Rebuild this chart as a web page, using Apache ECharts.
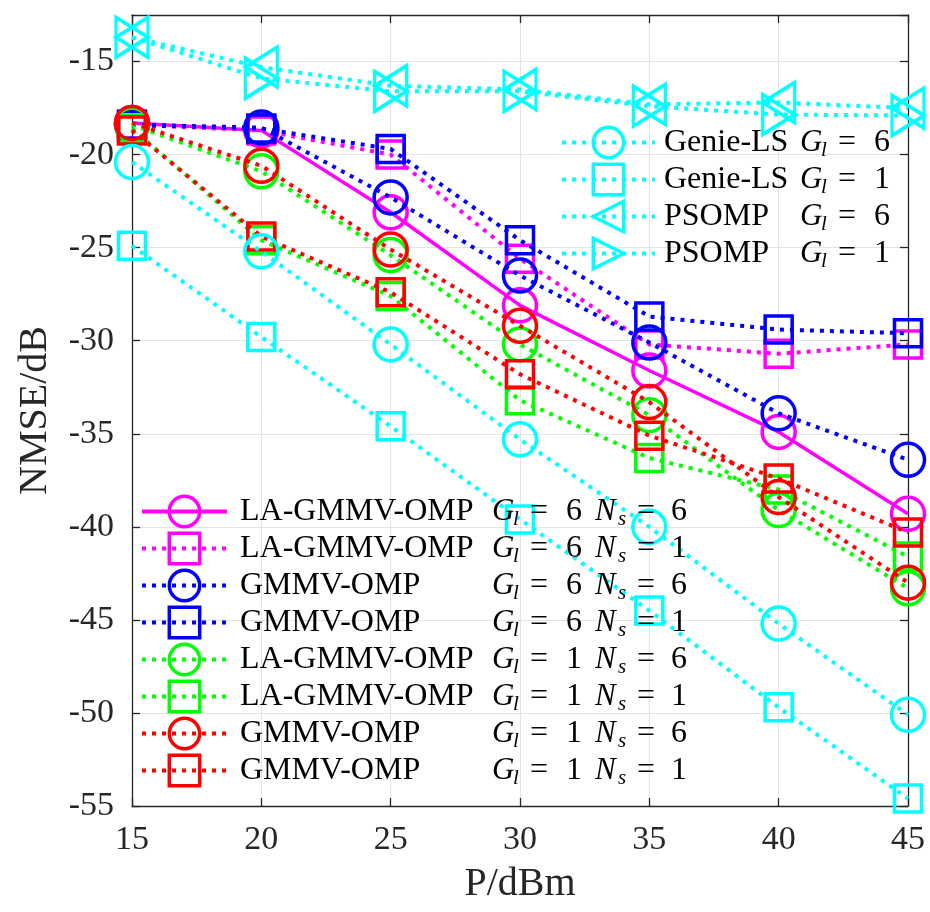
<!DOCTYPE html>
<html>
<head>
<meta charset="utf-8">
<title>NMSE vs P</title>
<script src="https://cdn.jsdelivr.net/npm/echarts@6/dist/echarts.min.js"></script>
<style>
  html, body { margin: 0; padding: 0; background: #fff; }
  #chart { width: 930px; height: 912px; }
</style>
</head>
<body>
<div id="chart"></div>
<script>
// Transmit power axis (dBm)
const powerDbm = [15, 20, 25, 30, 35, 40, 45];

// NMSE (dB) per method
const laGmmvG6N6 = [-18.3, -18.7, -23.1, -28.1, -31.6, -34.9, -39.3];
const laGmmvG6N1 = [-18.4, -18.7, -20.0, -25.6, -30.2, -30.7, -30.2];
const gmmvG6N6   = [-18.4, -18.55, -22.3, -26.5, -30.1, -33.9, -36.4];
const gmmvG6N1   = [-18.4, -18.6, -19.7, -24.6, -28.7, -29.4, -29.6];
const laGmmvG1N6 = [-18.4, -20.9, -25.4, -30.2, -34.0, -39.1, -43.3];
const laGmmvG1N1 = [-18.6, -24.6, -27.6, -33.2, -36.3, -38.0, -41.6];
const gmmvG1N6   = [-18.3, -20.6, -25.1, -29.2, -33.3, -38.4, -43.0];
const gmmvG1N1   = [-18.7, -24.4, -27.4, -31.8, -35.1, -37.4, -40.3];
const genieLsG6  = [-20.4, -25.2, -30.2, -35.3, -40.0, -45.2, -50.1];
const genieLsG1  = [-24.9, -29.8, -34.6, -39.6, -44.5, -49.7, -54.6];
const psompG6    = [-13.7, -15.3, -16.3, -16.5, -17.3, -17.2, -17.5];
const psompG1    = [-13.7, -15.9, -16.6, -16.6, -17.4, -17.85, -17.9];

// Legend wording: method name, G_l value, N_s value (null when absent)
const seriesLabels = [
  ['LA-GMMV-OMP', 6, 6], ['LA-GMMV-OMP', 6, 1],
  ['GMMV-OMP', 6, 6], ['GMMV-OMP', 6, 1],
  ['LA-GMMV-OMP', 1, 6], ['LA-GMMV-OMP', 1, 1],
  ['GMMV-OMP', 1, 6], ['GMMV-OMP', 1, 1],
  ['Genie-LS', 6, null], ['Genie-LS', 1, null],
  ['PSOMP', 6, null], ['PSOMP', 1, null]
];

const yTicks = { min: -55, max: -12.5, step: 5 };
const xTicks = { min: 15, max: 45, step: 5 };

const MAGENTA = '#ff00ff', BLUE = '#0000ff', GREEN = '#00ff00', RED = '#ff0000', CYAN = '#00ffff';
const DOT = [4, 6];
const SERIF = '"Liberation Serif", "Times New Roman", serif';

function seriesName(i) {
  const l = seriesLabels[i];
  return l[0] + '|' + l[1] + '|' + (l[2] === null ? '-' : l[2]);
}

function makeSeries(i, values, color, solid, symbol, size, rotate) {
  return {
    name: seriesName(i),
    type: 'line',
    data: powerDbm.map((p, k) => [p, values[k]]),
    symbol: symbol,
    symbolSize: size,
    symbolRotate: rotate || 0,
    showAllSymbol: true,
    lineStyle: { color: color, width: solid ? 3.5 : 4, type: solid ? 'solid' : DOT, cap: 'butt' },
    itemStyle: { color: 'rgba(255,255,255,0)', borderColor: color, borderWidth: 3.5 },
    emphasis: { disabled: true },
    z: 2 + i * 0.01
  };
}

const series = [
  makeSeries(0, laGmmvG6N6, MAGENTA, true, 'circle', 33),
  makeSeries(1, laGmmvG6N1, MAGENTA, false, 'rect', 27),
  makeSeries(2, gmmvG6N6, BLUE, false, 'circle', 33),
  makeSeries(3, gmmvG6N1, BLUE, false, 'rect', 27),
  makeSeries(4, laGmmvG1N6, GREEN, false, 'circle', 33),
  makeSeries(5, laGmmvG1N1, GREEN, false, 'rect', 27),
  makeSeries(6, gmmvG1N6, RED, false, 'circle', 33),
  makeSeries(7, gmmvG1N1, RED, false, 'rect', 27),
  makeSeries(8, genieLsG6, CYAN, false, 'circle', 33),
  makeSeries(9, genieLsG1, CYAN, false, 'rect', 27),
  makeSeries(10, psompG6, CYAN, false, 'triangle', [40, 32], 90),
  makeSeries(11, psompG1, CYAN, false, 'triangle', [40, 32], -90)
];

// Rich-text pieces for "G_l = v" and "N_s = v"
function mathRich(nameWidth, gap) {
  const base = { fontFamily: SERIF, fontSize: 32, color: '#000', lineHeight: 38 };
  return {
    sp: Object.assign({}, base, { width: gap }),
    nm: Object.assign({}, base, { width: nameWidth }),
    g: Object.assign({}, base, { fontSize: 31, fontStyle: 'italic', width: 21 }),
    sl: Object.assign({}, base, { fontSize: 21, fontStyle: 'italic', lineHeight: 22, padding: [16, 0, 0, 0], width: 17 }),
    e: Object.assign({}, base, { width: 36 }),
    v: Object.assign({}, base, { width: 29 }),
    n: Object.assign({}, base, { fontSize: 31, fontStyle: 'italic', width: 23 }),
    ss: Object.assign({}, base, { fontSize: 21, fontStyle: 'italic', lineHeight: 22, padding: [16, 0, 0, 0], width: 19 }),
    e2: Object.assign({}, base, { width: 34 }),
    v2: Object.assign({}, base)
  };
}

function legendFormatter(name) {
  const parts = name.split('|');
  let s = '{sp|\u00a0}{nm|' + parts[0] + '}{g|G}{sl|l}{e|=}{v|' + parts[1] + '}';
  if (parts[2] !== '-') s += '{n|N}{ss|s}{e2|=}{v2|' + parts[2] + '}';
  return s;
}

const legendCommon = {
  orient: 'vertical', itemGap: 0, itemHeight: 38, padding: 0, selectedMode: false,
  itemStyle: { borderWidth: 3.5 },
  lineStyle: { width: 4 },
  formatter: legendFormatter
};

const option = {
  animation: false,
  backgroundColor: '#fff',
  grid: { left: 132, right: 22, top: 15, bottom: 106, containLabel: false },
  xAxis: [{
    type: 'value', min: xTicks.min, max: xTicks.max, interval: xTicks.step,
    name: 'P/dBm', nameLocation: 'middle', nameGap: 58,
    nameTextStyle: { fontFamily: SERIF, fontSize: 40, color: '#262626' },
    axisLine: { show: true, onZero: false, lineStyle: { color: '#262626', width: 1.3 } },
    axisTick: { show: true, inside: true, length: 8, lineStyle: { color: '#262626', width: 1.3 } },
    axisLabel: { fontFamily: SERIF, fontSize: 34, color: '#262626', margin: 17 },
    splitLine: { show: true, lineStyle: { color: '#e3e3e3', width: 1 } }
  }, {
    type: 'value', position: 'top', min: xTicks.min, max: xTicks.max, interval: xTicks.step,
    axisLine: { show: true, onZero: false, lineStyle: { color: '#262626', width: 1.3 } },
    axisTick: { show: true, inside: true, length: 8, lineStyle: { color: '#262626', width: 1.3 } },
    axisLabel: { show: false }, splitLine: { show: false }
  }],
  yAxis: [{
    type: 'value', min: yTicks.min, max: yTicks.max, interval: yTicks.step,
    name: 'NMSE/dB', nameLocation: 'middle', nameGap: 77, nameRotate: 90,
    nameTextStyle: { fontFamily: SERIF, fontSize: 40, color: '#262626' },
    axisLine: { show: true, onZero: false, lineStyle: { color: '#262626', width: 1.3 } },
    axisTick: { show: true, inside: true, length: 8, lineStyle: { color: '#262626', width: 1.3 } },
    axisLabel: { fontFamily: SERIF, fontSize: 34, color: '#262626', margin: 18, showMaxLabel: false },
    splitLine: { show: true, lineStyle: { color: '#e3e3e3', width: 1 } }
  }, {
    type: 'value', position: 'right', min: yTicks.min, max: yTicks.max, interval: yTicks.step,
    axisLine: { show: true, onZero: false, lineStyle: { color: '#262626', width: 1.3 } },
    axisTick: { show: true, inside: true, length: 8, lineStyle: { color: '#262626', width: 1.3 } },
    axisLabel: { show: false }, splitLine: { show: false }
  }],
  legend: [
    Object.assign({}, legendCommon, {
      left: 560, top: 124, itemWidth: 93,
      data: [8, 9, 10, 11].map(seriesName),
      textStyle: { rich: mathRich(136, 4) }
    }),
    Object.assign({}, legendCommon, {
      left: 140, top: 493, itemWidth: 85,
      data: [0, 1, 2, 3, 4, 5, 6, 7].map(seriesName),
      textStyle: { rich: mathRich(252, 8) }
    })
  ],
  series: series
};

const chart = echarts.init(document.getElementById('chart'), null, { renderer: 'canvas' });
chart.setOption(option);
</script>
</body>
</html>
